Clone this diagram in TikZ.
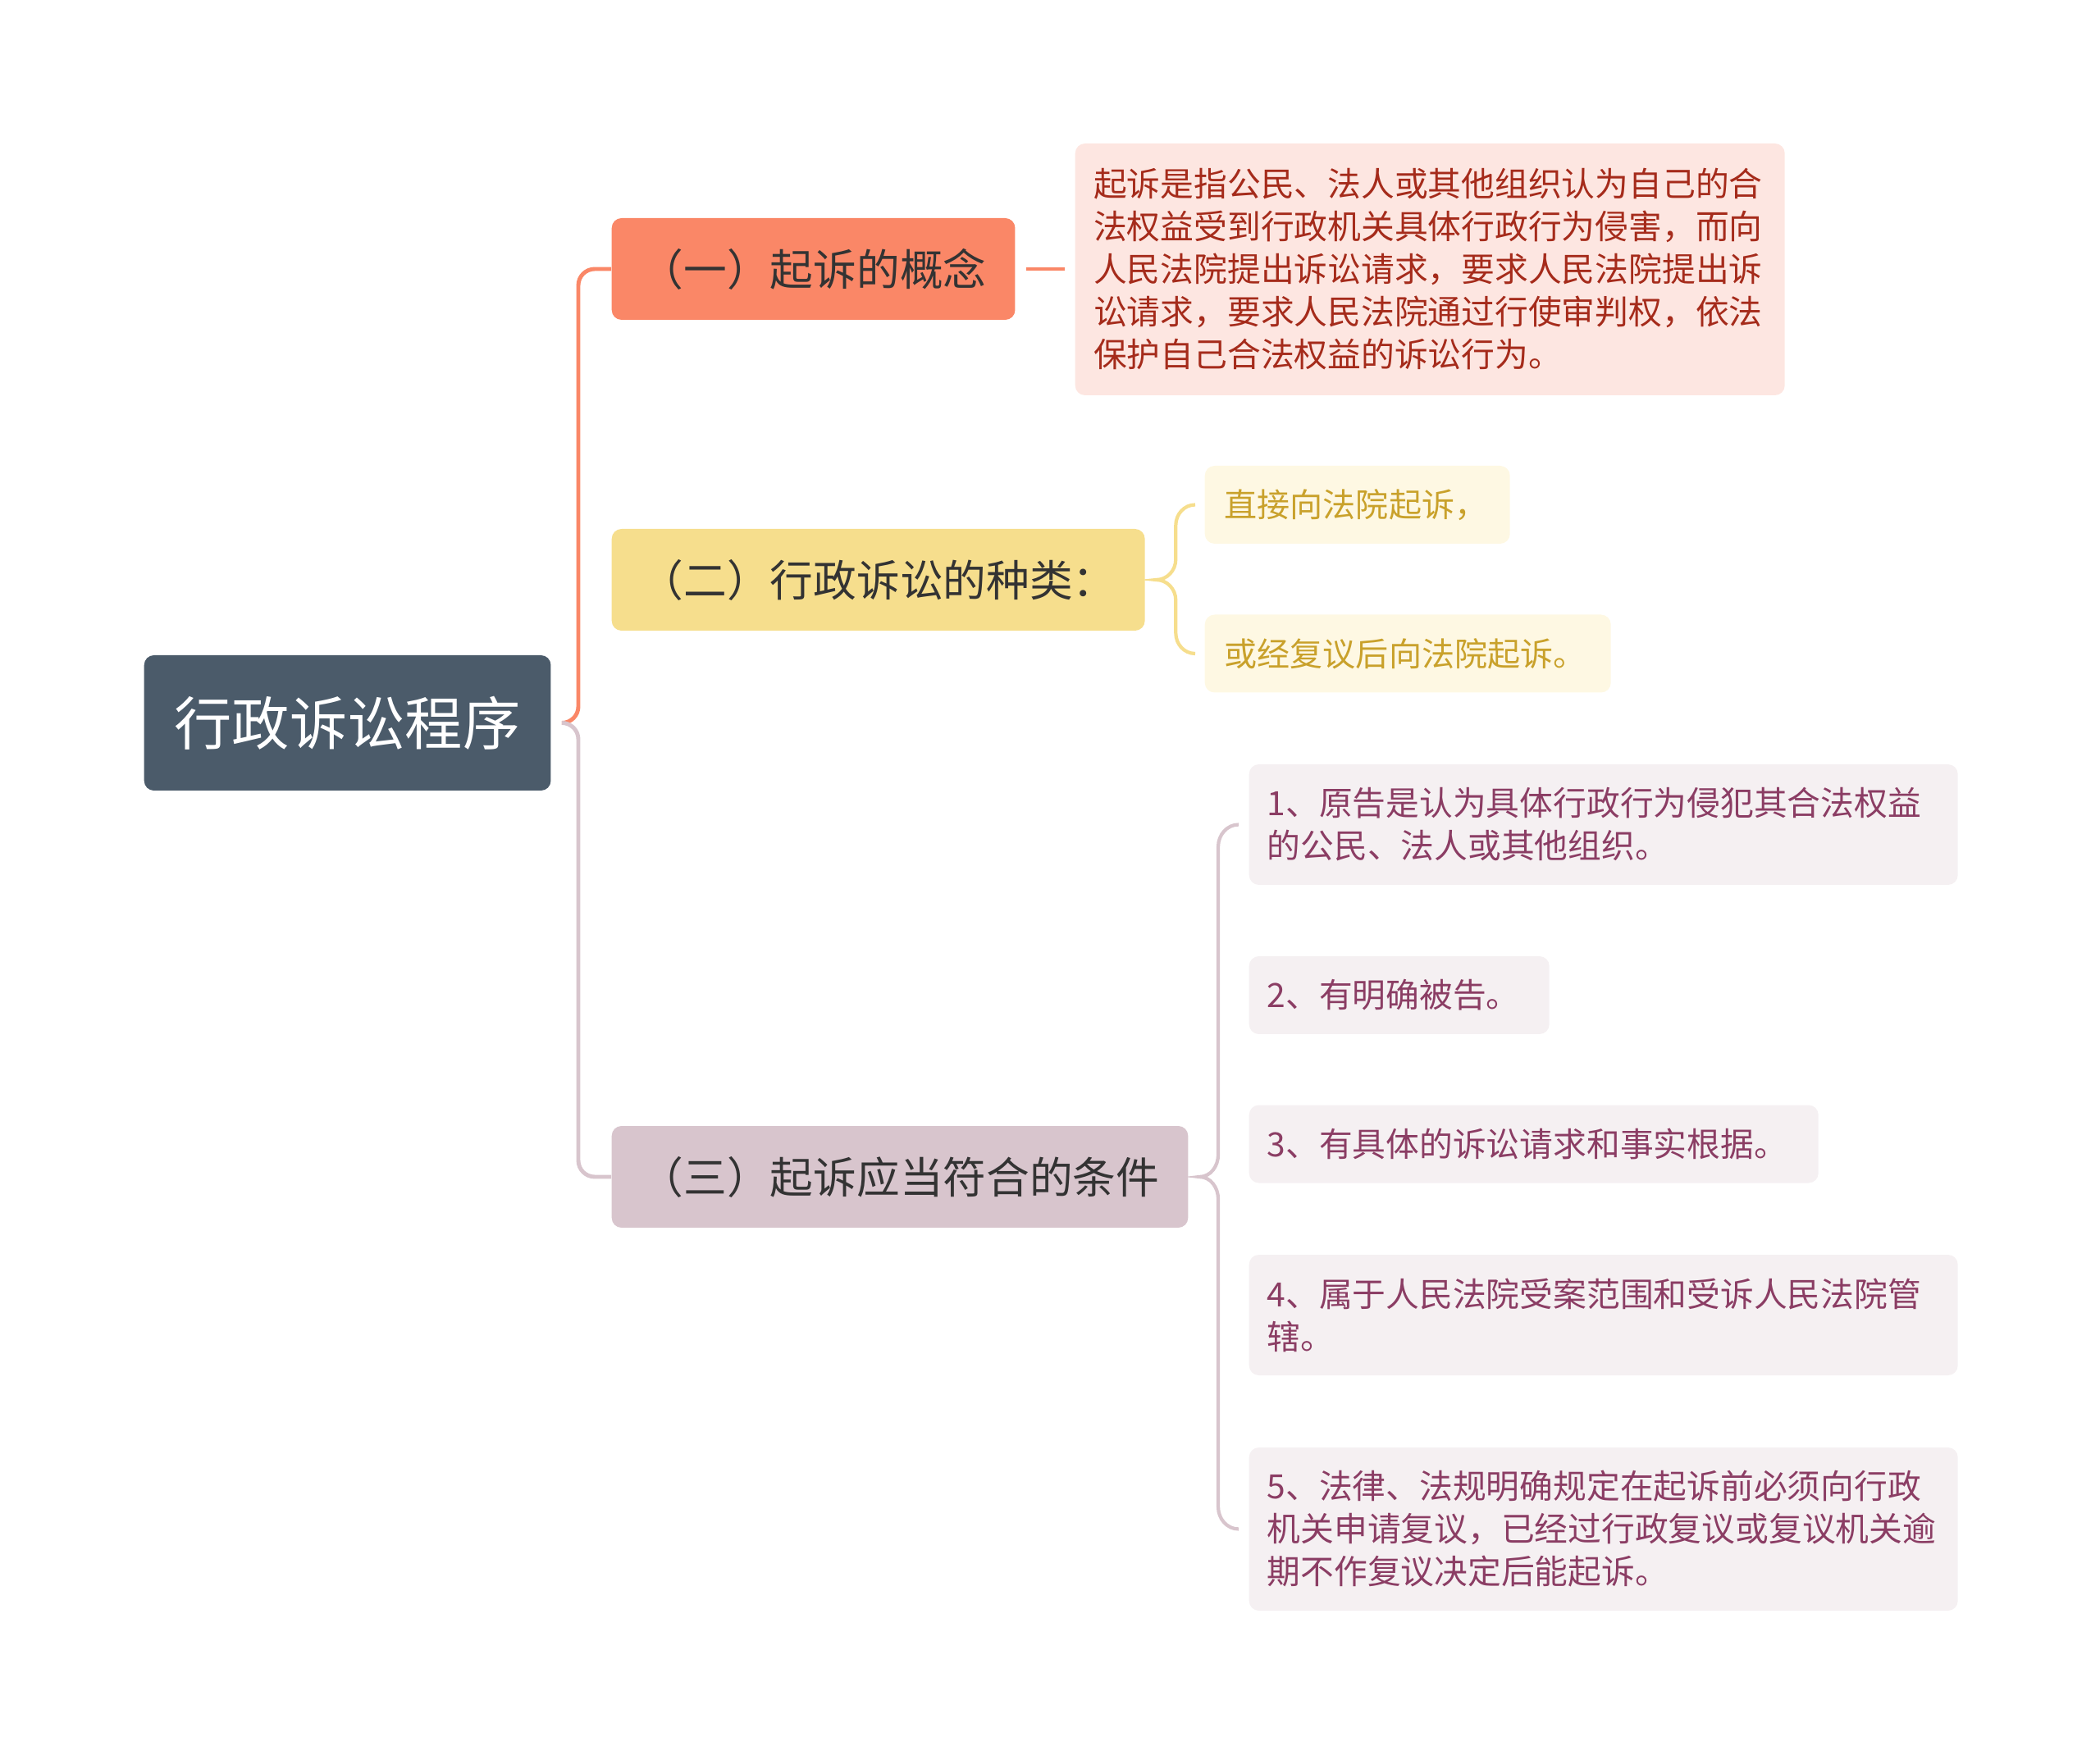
\documentclass[tikz,border=0pt]{standalone}
\usepackage{fontspec}
\setmainfont{Noto Sans CJK SC}
\usetikzlibrary{calc, positioning}

\definecolor{rootfill}{HTML}{4B5B6A}
\definecolor{onefill}{HTML}{FA8767}
\definecolor{twofill}{HTML}{F6DE8D}
\definecolor{threefill}{HTML}{D8C5CD}
\definecolor{topictext}{HTML}{333333}
\definecolor{notefill}{HTML}{FDE6E1}
\definecolor{notetext}{HTML}{A52B1B}
\definecolor{kindfill}{HTML}{FEF8E3}
\definecolor{kindtext}{HTML}{C9A12B}
\definecolor{condfill}{HTML}{F5F0F2}
\definecolor{condtext}{HTML}{8B3D64}

\begin{document}
\begin{tikzpicture}[
        box/.style={rectangle, rounded corners=0.12cm, inner ysep=0pt},
        rootbox/.style={box, fill=rootfill, text=white, inner xsep=0.37cm,
                  minimum height=1.65cm, font=\fontsize{20pt}{24pt}\selectfont},
        topic/.style={box, text=topictext, inner xsep=0.35cm, minimum height=1.24cm,
                  font=\fontsize{15pt}{18pt}\selectfont},
        note/.style={box, fill=notefill, text=notetext, align=left, text width=8.2cm,
                  inner xsep=0.225cm, minimum height=3.07cm,
                  font=\fontsize{11.6pt}{14.8pt}\selectfont},
        kind/.style={box, fill=kindfill, text=kindtext, inner xsep=0.24cm, align=left,
                  minimum height=0.95cm, font=\fontsize{11.4pt}{14.8pt}\selectfont},
        cond/.style={box, fill=condfill, text=condtext, align=left, inner xsep=0.22cm,
                  minimum height=0.95cm, font=\fontsize{11.6pt}{14.8pt}\selectfont},
        wide/.style={text width=8.2cm},
        link/.style={line width=1.4pt, rounded corners=0.2cm},
        brace/.style={line width=1.2pt}]
      \useasboundingbox (0,0) rectangle (25.6,-21.4);

      % main topic and the three branches
      \node[rootbox, anchor=west] (root) at (1.75,-8.815) {行政诉讼程序};
      \node[topic, fill=onefill, anchor=west] (b1) at (7.45,-3.28) {（一）起诉的概念};
      \node[topic, fill=twofill, anchor=west] (b2) at (7.45,-7.07) {（二）行政诉讼的种类：};
      \node[topic, fill=threefill, anchor=west] (b3) at (7.45,-14.35) {（三）起诉应当符合的条件};

      % leaves
      \node[note, anchor=west] (desc) at (13.10,-3.285)
        {起诉是指公民、法人或其他组织认为自己的合\\法权益受到行政机关具体行政行为侵害，而向\\人民法院提出诉讼请求，要求人民法院提出诉\\讼请求，要求人民法院通过行使审判权，依法\\保护自己合法权益的诉讼行为。};
      \node[kind, anchor=west, text width=3.24cm] (k1) at (14.68,-6.155) {直接向法院起诉，};
      \node[kind, anchor=west, text width=4.47cm] (k2) at (14.68,-7.97) {或经复议后向法院起诉。};
      \node[cond, wide, anchor=west, minimum height=1.47cm] (c1) at (15.22,-10.055)
        {1、原告是认为具体行政行为侵犯其合法权益\\的公民、法人或其他组织。};
      \node[cond, anchor=west, text width=3.22cm] (c2) at (15.22,-12.135) {2、有明确被告。};
      \node[cond, anchor=west, text width=6.5cm] (c3) at (15.22,-13.95) {3、有具体的诉讼请求和事实根据。};
      \node[cond, wide, anchor=west, minimum height=1.47cm] (c4) at (15.22,-16.035)
        {4、属于人民法院受案范围和受诉人民法院管\\辖。};
      \node[cond, wide, anchor=west, minimum height=1.99cm] (c5) at (15.22,-18.645)
        {5、法律、法规明确规定在起诉前必须向行政\\机关申请复议，已经过行政复议或复议机关逾\\期不作复议决定后能起诉。};

      % connectors
      \coordinate (hub) at ($(root.east)+(0.13,0)$);
      \draw[link, onefill] (hub) -| ($(b1.west)+(-0.4,0)$) -- (b1.west);
      \draw[link, threefill] (hub) -| ($(b3.west)+(-0.4,0)$) -- (b3.west);
      \draw[onefill, line width=1.4pt] ($(b1.east)+(0.13,0)$) -- ($(b1.east -| desc.west)+(-0.12,0)$);

      \coordinate (t2) at ($(b2.east)+(0.13,0)$);
      \coordinate (v2) at ($(t2)+(0.24,0)$);
      \coordinate (e1) at ($(k1.west)+(-0.11,0)$);
      \coordinate (e2) at ($(k2.west)+(-0.11,0)$);
      \draw[brace, twofill] (e1) to[out=180,in=90] ($(v2 |- e1)+(0,-0.25)$)
        -- ($(v2)+(0,0.25)$) to[out=-90,in=0] (t2) to[out=0,in=90] ($(v2)+(0,-0.25)$)
        -- ($(v2 |- e2)+(0,0.25)$) to[out=-90,in=180] (e2);

      \coordinate (t3) at ($(b3.east)+(0.13,0)$);
      \coordinate (v3) at ($(t3)+(0.23,0)$);
      \coordinate (f1) at ($(c1.west)+(-0.12,0)$);
      \coordinate (f5) at ($(c5.west)+(-0.12,0)$);
      \draw[brace, threefill] (f1) to[out=180,in=90] ($(v3 |- f1)+(0,-0.27)$)
        -- ($(v3)+(0,0.27)$) to[out=-90,in=0] (t3) to[out=0,in=90] ($(v3)+(0,-0.27)$)
        -- ($(v3 |- f5)+(0,0.27)$) to[out=-90,in=180] (f5);
    \end{tikzpicture}
\end{document}
